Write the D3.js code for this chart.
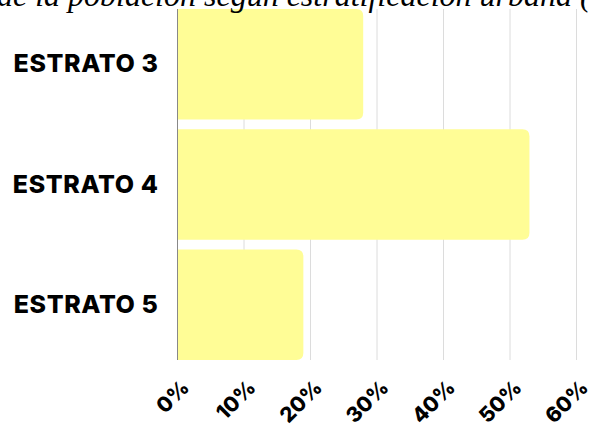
<!DOCTYPE html>
<html>
<head>
<meta charset="utf-8">
<script src="https://cdn.jsdelivr.net/npm/d3@7"></script>
<style>
  body { margin: 0; background: #fff; }
  svg { display: block; }
</style>
</head>
<body>
<div id="chart"></div>
<script>
// data
const categories = ["ESTRATO 3", "ESTRATO 4", "ESTRATO 5"];
const values = [28, 53, 19];
const xTicks = [0, 10, 20, 30, 40, 50, 60];
const titleText = "Distribución de la población según estratificación urbana (%)";

const W = 589, H = 428;
const plotLeft = 177, plotRight = 576, plotTop = 9, plotBottom = 360;

const svg = d3.select("#chart")
    .append("svg")
    .attr("width", W)
    .attr("height", H);

const x = d3.scaleLinear()
    .domain([0, 60])
    .range([plotLeft, plotRight]);

const y = d3.scaleBand()
    .domain(categories)
    .range([plotTop, plotBottom])
    .paddingInner(0.08)
    .paddingOuter(0);

// grid lines
svg.append("g")
    .selectAll("line")
    .data(xTicks.slice(1))
    .enter()
    .append("line")
    .attr("x1", d => x(d) + 0.5)
    .attr("x2", d => x(d) + 0.5)
    .attr("y1", plotTop)
    .attr("y2", plotBottom)
    .attr("stroke", "#dcdcdc")
    .attr("stroke-width", 1);

// bars, rounded on the right side only
const r = 7;
function barPath(d, i) {
    const x0 = x(0), x1 = x(d), y0 = y(categories[i]), h = y.bandwidth();
    return `M${x0},${y0} H${x1 - r} Q${x1},${y0} ${x1},${y0 + r} V${y0 + h - r} Q${x1},${y0 + h} ${x1 - r},${y0 + h} H${x0} Z`;
}
svg.append("g")
    .selectAll("path")
    .data(values)
    .enter()
    .append("path")
    .attr("d", barPath)
    .attr("fill", "#fffd96");

// y axis
const yAxis = svg.append("g")
    .attr("transform", `translate(${plotLeft + 0.5},0)`)
    .call(d3.axisLeft(y).tickSize(0).tickPadding(19));
yAxis.select(".domain").attr("stroke", "#888").attr("d", `M0,${plotTop}V${plotBottom}`);
yAxis.selectAll("text")
    .style("font-family", "Inter, sans-serif")
    .style("font-weight", "800")
    .style("font-size", "25px")
    .style("letter-spacing", "0.6px")
    .attr("fill", "#000");

// x axis
const xAxis = svg.append("g")
    .attr("transform", `translate(0,${plotBottom})`)
    .call(d3.axisBottom(x).tickValues(xTicks).tickSize(0).tickFormat(d => d + "%"));
xAxis.select(".domain").remove();
xAxis.selectAll("text")
    .attr("y", null)
    .attr("dy", null)
    .attr("text-anchor", "end")
    .attr("transform", "translate(13,29) rotate(-45)")
    .style("font-family", "Inter, sans-serif")
    .style("font-weight", "800")
    .style("font-size", "21px")
    .attr("fill", "#000");

// title (mostly above the visible area)
const title = svg.append("text")
    .attr("x", 0)
    .attr("y", 6)
    .style("font-family", "'Liberation Serif', 'Times New Roman', serif")
    .style("font-style", "italic")
    .style("font-size", "32px")
    .attr("fill", "#000")
    .text(titleText);
const idx = titleText.indexOf("según");
const sx = title.node().getStartPositionOfChar(idx).x;
title.attr("x", 204 - sx);
</script>
</body>
</html>
